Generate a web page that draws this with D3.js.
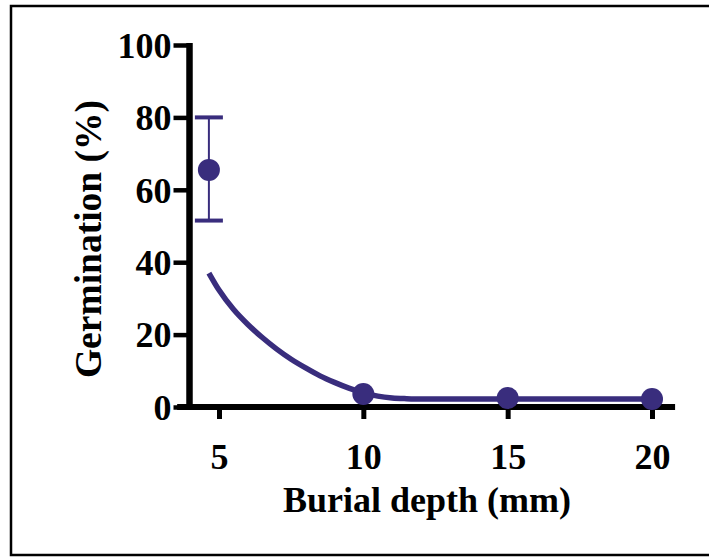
<!DOCTYPE html>
<html>
<head>
<meta charset="utf-8">
<script src="https://cdn.jsdelivr.net/npm/d3@7.9.0/dist/d3.min.js"></script>
<style>
  body { margin: 0; background: #fff; }
</style>
</head>
<body>
<svg id="chart"></svg>
<script>
// burial depth (mm) vs germination (%)
const depths = [4.65, 10, 15, 20];
const germination = [65.5, 3.6, 2.5, 2.2];
const errorHigh = [80, null, null, null];
const errorLow = [51.5, null, null, null];

// fitted decay curve
const curveX = [4.65, 5.0, 5.5, 6.0, 6.5, 7.0, 7.5, 8.0, 8.5, 9.0, 9.5, 10.0, 10.5, 11.0, 11.5, 12.0, 13.0, 20.0];
const curveY = [37.0, 32.3, 27.0, 22.8, 19.2, 16.0, 13.2, 10.8, 8.6, 6.8, 5.2, 3.9, 3.0, 2.5, 2.3, 2.2, 2.2, 2.2];

const xTicks = [5, 10, 15, 20];
const yTicks = [0, 20, 40, 60, 80, 100];

function drawChart() {
    const svgWidth = 709;
    const svgHeight = 557;
    const purple = "#392d7d";
    const font = "'Liberation Serif', 'Times New Roman', serif";

    const svg = d3.select("#chart")
        .attr("width", svgWidth)
        .attr("height", svgHeight);

    svg.selectAll("*").remove();

    // outer frame (right edge falls off the canvas)
    svg.append("rect")
        .attr("x", 11)
        .attr("y", 6)
        .attr("width", 720)
        .attr("height", 549)
        .attr("fill", "none")
        .attr("stroke", "#000")
        .attr("stroke-width", 2.5);

    const xScale = d3.scaleLinear().domain([5, 20]).range([219, 652]);
    const yScale = d3.scaleLinear().domain([0, 100]).range([407, 45]);

    // x axis line, starts a bit left of the y axis
    svg.append("line")
        .attr("x1", xScale(3.55))
        .attr("x2", xScale(20.8))
        .attr("y1", yScale(0))
        .attr("y2", yScale(0))
        .attr("stroke", "#000")
        .attr("stroke-width", 6);

    const xAxis = d3.axisBottom(xScale)
        .tickValues(xTicks)
        .tickSize(12)
        .tickSizeOuter(0)
        .tickPadding(24);

    const gx = svg.append("g")
        .attr("transform", `translate(0, ${yScale(0)})`)
        .call(xAxis);
    gx.select(".domain").remove();
    gx.selectAll(".tick line")
        .attr("stroke", "#000")
        .attr("stroke-width", 5);
    gx.selectAll("text")
        .style("font-family", font)
        .style("font-size", "36px")
        .style("font-weight", "bold")
        .attr("fill", "#000");

    const yAxisX = 189.5;
    const yAxis = d3.axisLeft(yScale)
        .tickValues(yTicks)
        .tickSize(16)
        .tickSizeOuter(0)
        .tickPadding(2);

    const gy = svg.append("g")
        .attr("transform", `translate(${yAxisX}, 0)`)
        .call(yAxis);
    gy.select(".domain")
        .attr("stroke", "#000")
        .attr("stroke-width", 6.5)
        .attr("d", `M0,${yScale(100) - 2}V${yScale(0) + 3}`);
    gy.selectAll(".tick line")
        .attr("stroke", "#000")
        .attr("stroke-width", 4.5);
    gy.selectAll("text")
        .attr("dy", "0.34em")
        .style("font-family", font)
        .style("font-size", "36px")
        .style("font-weight", "bold")
        .attr("fill", "#000");

    // fitted curve
    const curveData = curveX.map((x, i) => ({ x: x, y: curveY[i] }));
    const line = d3.line()
        .x((d) => xScale(d.x))
        .y((d) => yScale(d.y))
        .curve(d3.curveMonotoneX);

    svg.append("path")
        .datum(curveData)
        .attr("d", line)
        .attr("fill", "none")
        .attr("stroke", purple)
        .attr("stroke-width", 5.5);

    const points = depths.map((d, i) => ({
        x: d,
        y: germination[i],
        hi: errorHigh[i],
        lo: errorLow[i]
    }));

    // error bars
    const bars = points.filter((d) => d.hi !== null);
    svg.selectAll("line.err")
        .data(bars)
        .enter()
        .append("line")
        .attr("class", "err")
        .attr("x1", (d) => xScale(d.x))
        .attr("x2", (d) => xScale(d.x))
        .attr("y1", (d) => yScale(d.hi))
        .attr("y2", (d) => yScale(d.lo))
        .attr("stroke", purple)
        .attr("stroke-width", 2);

    ["hi", "lo"].forEach((k) => {
        svg.selectAll(`line.cap-${k}`)
            .data(bars)
            .enter()
            .append("line")
            .attr("class", `cap-${k}`)
            .attr("x1", (d) => xScale(d.x) - 14)
            .attr("x2", (d) => xScale(d.x) + 14)
            .attr("y1", (d) => yScale(d[k]))
            .attr("y2", (d) => yScale(d[k]))
            .attr("stroke", purple)
            .attr("stroke-width", 4);
    });

    svg.selectAll("circle.pt")
        .data(points)
        .enter()
        .append("circle")
        .attr("class", "pt")
        .attr("cx", (d) => xScale(d.x))
        .attr("cy", (d) => yScale(d.y))
        .attr("r", 11)
        .attr("fill", purple);

    // axis titles
    svg.append("text")
        .attr("x", 427)
        .attr("y", 512)
        .attr("text-anchor", "middle")
        .style("font-family", font)
        .style("font-size", "36px")
        .style("font-weight", "bold")
        .text("Burial depth (mm)");

    svg.append("text")
        .attr("transform", "rotate(-90)")
        .attr("x", -239)
        .attr("y", 101)
        .attr("text-anchor", "middle")
        .style("font-family", font)
        .style("font-size", "37.5px")
        .style("font-weight", "bold")
        .text("Germination (%)");
}

drawChart();
</script>
</body>
</html>
